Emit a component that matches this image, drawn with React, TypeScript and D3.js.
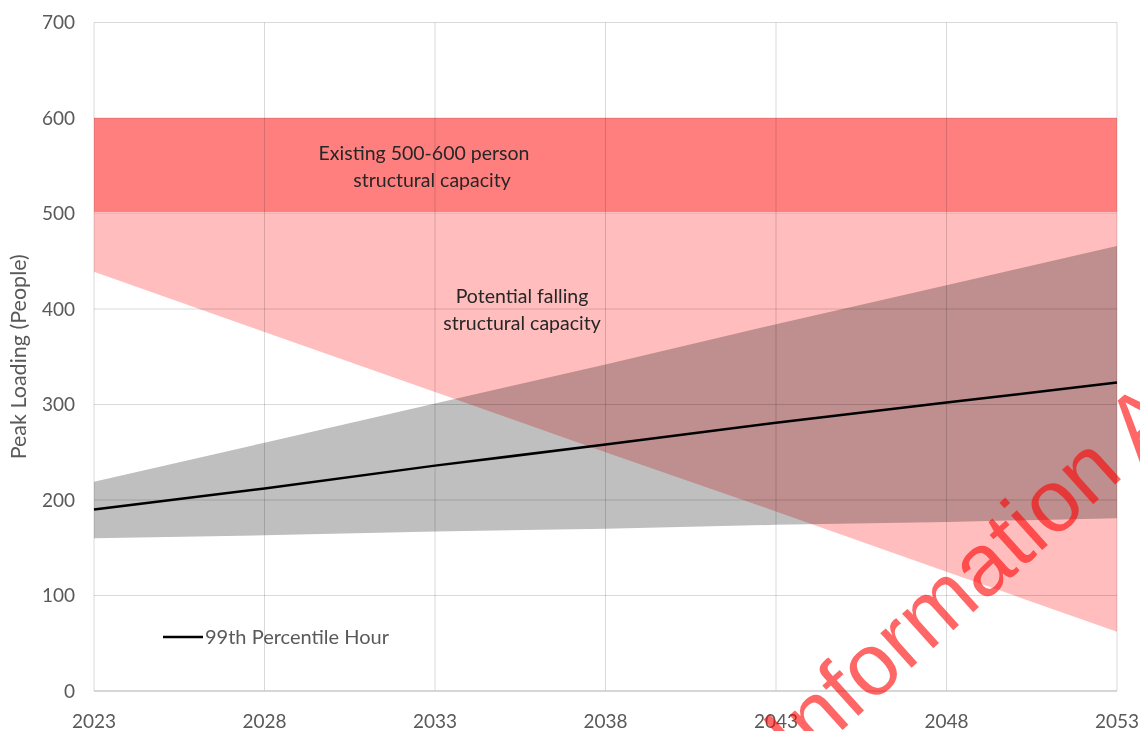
import React from "react";
import * as d3 from "d3";

const years = [2023, 2028, 2033, 2038, 2043, 2048, 2053];
const percentile99 = [190, 212, 236, 258, 281, 302, 323];
const grayUpper = [219, 260, 301, 342, 384, 425, 466];
const grayLower = [160, 163, 167, 170, 174, 177, 181];
const pinkUpper = [500, 500, 500, 500, 500, 500, 500];
const pinkLower = [439, 376, 313, 250, 188, 125, 62];
const bandLow = 500;
const bandHigh = 600;
const yTicks = [0, 100, 200, 300, 400, 500, 600, 700];

const W = 1140;
const H = 731;
const M = { left: 94, right: 1117, top: 22.5, bottom: 691 };

export default function App() {
  const x = d3.scaleLinear().domain([2023, 2053]).range([M.left, M.right]);
  const y = d3.scaleLinear().domain([0, 700]).range([M.bottom, M.top]);

  const idx = years.map((_, i) => i);
  const areaGen = (up: number[], lo: number[]) =>
    d3
      .area<number>()
      .x((i) => x(years[i]))
      .y0((i) => y(lo[i]))
      .y1((i) => y(up[i]))(idx) || "";
  const lineGen =
    d3
      .line<number>()
      .x((i) => x(years[i]))
      .y((i) => y(percentile99[i]))(idx) || "";

  const font = "Lato, 'Open Sans', sans-serif";
  const tickColor = "#595959";

  // watermark geometry
  const ang = 42;
  const wx = 798;
  const wy = 770;

  return (
    <svg
      width={W}
      height={H}
      style={{ position: "absolute", left: 0, top: 0, background: "#fff" }}
    >
      {/* pink falling capacity */}
      <path d={areaGen(pinkUpper, pinkLower)} fill="#FFBDBD" />
      {/* existing band */}
      <rect
        x={x(2023)}
        width={x(2053) - x(2023)}
        y={y(bandHigh)}
        height={y(bandLow) - y(bandHigh) - 1}
        fill="#FF7F7F"
      />
      {/* gray range, multiplied */}
      <path
        d={areaGen(grayUpper, grayLower)}
        fill="#BFBFBF"
        style={{ mixBlendMode: "multiply" }}
      />
      {/* gridlines */}
      <g stroke="rgba(0,0,0,0.15)" strokeWidth={1}>
        {yTicks.slice(1).map((t) => (
          <line key={t} x1={M.left} x2={M.right} y1={y(t)} y2={y(t)} />
        ))}
        {years.map((yr) => (
          <line key={yr} x1={x(yr)} x2={x(yr)} y1={M.top} y2={M.bottom} />
        ))}
      </g>
      <line x1={M.left} x2={M.right} y1={y(0)} y2={y(0)} stroke="#C8C8C8" strokeWidth={1.5} />
      {/* 99th percentile line */}
      <path d={lineGen} fill="none" stroke="#000" strokeWidth={2.5} />
      {/* y tick labels */}
      {yTicks.map((t) => (
        <text
          key={t}
          x={75}
          y={y(t)}
          dy="0.35em"
          textAnchor="end"
          fontFamily={font}
          fontSize={19}
          fill={tickColor}
        >
          {t}
        </text>
      ))}
      {/* x tick labels */}
      {years.map((yr) => (
        <text
          key={yr}
          x={x(yr)}
          y={721}
          dy="0.35em"
          textAnchor="middle"
          fontFamily={font}
          fontSize={19}
          fill={tickColor}
        >
          {yr}
        </text>
      ))}
      {/* y axis title */}
      <text
        transform={`translate(26, ${(M.top + M.bottom) / 2}) rotate(-90)`}
        textAnchor="middle"
        fontFamily={font}
        fontSize={21.5}
        fill={tickColor}
      >
        Peak Loading (People)
      </text>
      {/* annotations */}
      <g fontFamily={font} fontSize={19.5} fill="#262626" textAnchor="middle">
        <text x={424} y={160}>Existing 500-600 person</text>
        <text x={432} y={187}>structural capacity</text>
        <text x={522} y={303}>Potential falling</text>
        <text x={522} y={330}>structural capacity</text>
      </g>
      {/* legend */}
      <line x1={163} x2={203} y1={637} y2={637} stroke="#000" strokeWidth={2.5} />
      <text x={205} y={637} dy="0.35em" fontFamily={font} fontSize={20} fill={tickColor}>
        99th Percentile Hour
      </text>
      {/* watermark */}
      <text
        x={wx}
        y={wy}
        transform={`rotate(${-ang}, ${wx}, ${wy})`}
        fontFamily="'Liberation Sans', Arial, sans-serif"
        fontSize={88}
        fill="rgba(255,0,0,0.6)"
      >
        Information A
      </text>
    </svg>
  );
}
